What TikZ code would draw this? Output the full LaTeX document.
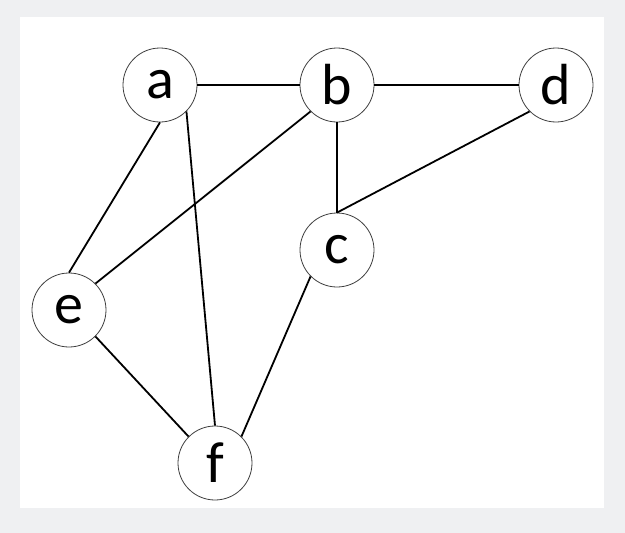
\documentclass[tikz,border=0pt]{standalone}
\usepackage{fontspec}
\setmainfont{Carlito}
\usetikzlibrary{positioning}
\definecolor{framegray}{HTML}{EFF0F2}
\definecolor{ringgray}{HTML}{404040}

\begin{document}
\begin{tikzpicture}[x=1pt, y=-1pt,
    vert/.style={draw=ringgray, fill=white, circle, line width=0.8pt, minimum size=74pt, inner sep=0pt, font=\fontsize{58}{58}\selectfont},
    edge/.style={line width=1.8pt, black}]
          % Rahmen
          \fill[framegray] (0,0) rectangle (625,533);
          \fill[white] (20,17) rectangle (604,508);
          \useasboundingbox (0,0) rectangle (625,533);

          % Knoten
          \node[vert] (a) at (160,85) {a};
          \node[vert] (b) at (337,85) {b};
          \node[vert] (d) at (556,85) {d};
          \node[vert] (c) at (337,250) {c};
          \node[vert] (e) at (69,310) {e};
          \node[vert] (f) at (215,463) {f};

          % Kanten
          \draw[edge] (a.east) -- (b.west);
          \draw[edge] (b.east) -- (d.west);
          \draw[edge] (a.south) -- (e.north);
          \draw[edge] (a.south east) -- (f.north);
          \draw[edge] (b.south west) -- (e.north east);
          \draw[edge] (b.south) -- (c.north);
          \draw[edge] (d.south west) -- (c.north);
          \draw[edge] (c.south west) -- (f.north east);
          \draw[edge] (e.south east) -- (f.north west);
        \end{tikzpicture}
\end{document}
